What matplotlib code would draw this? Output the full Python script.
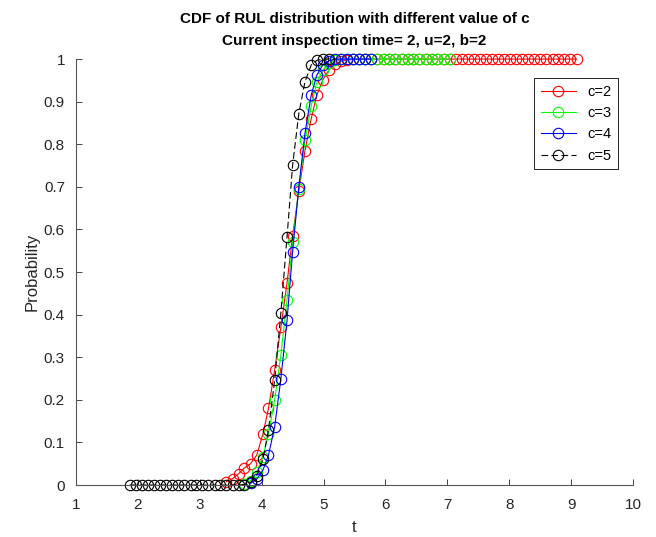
import matplotlib
matplotlib.use('Agg')
import matplotlib.pyplot as plt

plt.rcParams['font.family'] = ['Liberation Sans', 'DejaVu Sans']

# common t grid
t_grid = [1.87, 1.97, 2.07, 2.16, 2.26, 2.36, 2.46, 2.55, 2.65, 2.75,
          2.85, 2.94, 3.04, 3.14, 3.24, 3.33, 3.43, 3.53, 3.63, 3.72,
          3.82, 3.92, 4.02, 4.11, 4.21, 4.31, 4.41, 4.50, 4.60, 4.70,
          4.80, 4.89, 4.99, 5.09, 5.19, 5.28, 5.38, 5.48, 5.58, 5.67,
          5.77, 5.87, 5.97, 6.06, 6.16, 6.26, 6.36, 6.45, 6.55, 6.65,
          6.75, 6.84, 6.94, 7.04, 7.14, 7.23, 7.33, 7.43, 7.53, 7.62,
          7.72, 7.82, 7.92, 8.01, 8.11, 8.21, 8.31, 8.40, 8.50, 8.60,
          8.70, 8.79, 8.89, 8.99, 9.09]

labels = ['c=2', 'c=3', 'c=4', 'c=5']

# first grid index of each series
start_c2 = 16
start_c3 = 19
start_c4 = 20
start_c5 = 0

cdf_c2 = [0.008, 0.015, 0.027, 0.04, 0.05, 0.07, 0.12, 0.18, 0.27, 0.37,
          0.475, 0.585, 0.69, 0.785, 0.86, 0.915, 0.952, 0.975, 0.988, 0.995,
          0.998, 0.999] + [1.0] * 37
cdf_c3 = [0.002, 0.01, 0.03, 0.065, 0.12, 0.2, 0.305, 0.435, 0.57, 0.695,
          0.81, 0.89, 0.945, 0.975, 0.99, 0.997] + [1.0] * 19
cdf_c4 = [0.004, 0.014, 0.035, 0.07, 0.137, 0.249, 0.387, 0.548, 0.70, 0.826,
          0.915, 0.962, 0.987, 0.996, 1.0, 1.0, 1.0, 1.0, 1.0, 1.0, 1.0]
cdf_c5 = [0.0] * 19 + [0.001, 0.006, 0.022, 0.06, 0.13, 0.246, 0.404, 0.583,
                       0.751, 0.872, 0.947, 0.986, 0.997, 1.0, 1.0]

series = [
    (start_c2, cdf_c2, 'r', '-'),
    (start_c3, cdf_c3, '#00ff00', '-'),
    (start_c4, cdf_c4, 'b', '-'),
    (start_c5, cdf_c5, 'k', (0, (6, 3))),
]

fig = plt.figure(figsize=(6.56, 5.37), dpi=100)
ax = fig.add_axes([0.1159, 0.0968, 0.849, 0.7932])

for (s, y, col, ls), lab in zip(series, labels):
    t = t_grid[s:s + len(y)]
    ax.plot(t, y, color=col, linestyle=ls, linewidth=0.8, marker='o',
            markersize=7.5, markerfacecolor='none', markeredgewidth=0.8,
            label=lab, clip_on=False)

ax.set_xlim(1, 10)
ax.set_ylim(0, 1)
ax.set_xticks(range(1, 11))
ax.set_yticks([i / 10 for i in range(11)])
ax.set_yticklabels(['0', '0.1', '0.2', '0.3', '0.4', '0.5', '0.6', '0.7',
                    '0.8', '0.9', '1'])
ax.tick_params(direction='in', length=4, width=0.6, colors='#262626',
               labelsize=11)
ax.tick_params(axis='x', pad=9)
ax.tick_params(axis='y', pad=8)
ax.spines['top'].set_visible(False)
ax.spines['right'].set_visible(False)
for sp in ['left', 'bottom']:
    ax.spines[sp].set_color('#555555')
    ax.spines[sp].set_linewidth(0.8)

ax.set_xlabel('t', fontsize=12, color='#262626', labelpad=6)
ax.set_ylabel('Probability', fontsize=12, color='#262626', labelpad=3)
ax.set_title('CDF of RUL distribution with different value of c\n'
             'Current inspection time= 2, u=2, b=2',
             fontsize=11, fontweight='bold', linespacing=1.7, pad=10)

leg = ax.legend(loc='upper right', bbox_to_anchor=(0.973, 0.955),
                borderaxespad=0, fontsize=10.5, fancybox=False,
                framealpha=1, edgecolor='k', handlelength=2.4,
                borderpad=0.45, labelspacing=0.5)
leg.get_frame().set_linewidth(0.6)

fig.savefig('out.png', dpi=100)
